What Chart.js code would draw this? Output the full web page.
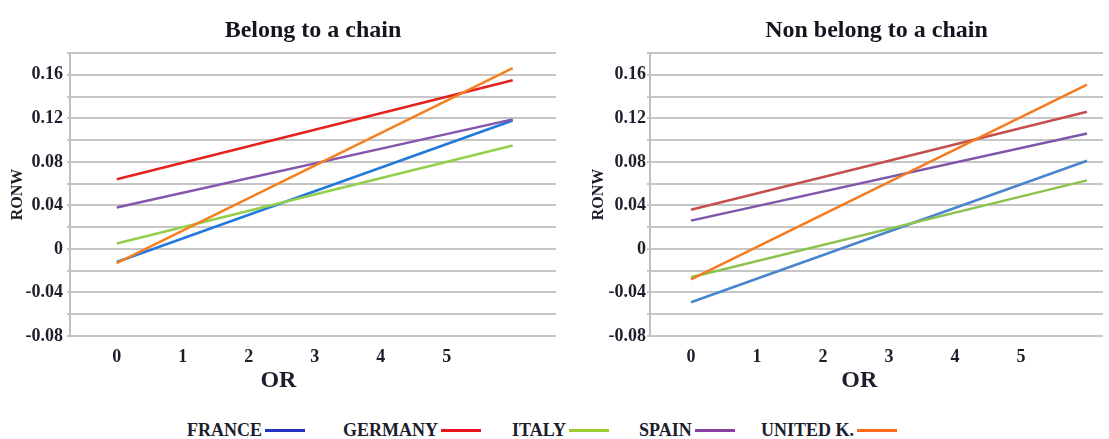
<!DOCTYPE html>
<html>
<head>
<meta charset="utf-8">
<script src="https://cdn.jsdelivr.net/npm/chart.js@4.4.1/dist/chart.umd.min.js"></script>
<style>
  html, body { margin: 0; padding: 0; background: #fff; width: 1109px; height: 439px; overflow: hidden; }
  #belong { position: absolute; left: 0; top: 0; }
  #nonBelong { position: absolute; left: 560px; top: 0; }
  .key { position: absolute; top: 418px; height: 24px; line-height: 24px; display: flex; align-items: center;
         font: bold 18px 'Liberation Serif', 'Times New Roman', serif; color: #1d1d2b; white-space: nowrap; }
  .key i { display: inline-block; width: 40px; height: 3px; margin-left: 3px; }
</style>
</head>
<body>
<canvas id="belong" width="560" height="400"></canvas>
<canvas id="nonBelong" width="549" height="400"></canvas>
<div id="keys"></div>
<script>
// OR values at which each fitted line is evaluated
const xValues = [0, 6];

const countries = ['FRANCE', 'GERMANY', 'ITALY', 'SPAIN', 'UNITED K.'];

// RONW, firms belonging to a chain
const belongFrance  = [-0.012, 0.118];
const belongGermany = [0.064, 0.155];
const belongItaly   = [0.005, 0.095];
const belongSpain   = [0.038, 0.119];
const belongUK      = [-0.013, 0.166];

// RONW, firms not belonging to a chain
const nonFrance  = [-0.049, 0.081];
const nonGermany = [0.036, 0.126];
const nonItaly   = [-0.026, 0.063];
const nonSpain   = [0.026, 0.106];
const nonUK      = [-0.028, 0.151];

// axis ticks
const xTicks = [0, 1, 2, 3, 4, 5];
const xTickLabels = ['0', '1', '2', '3', '4', '5'];
const yTicks = [-0.08, -0.06, -0.04, -0.02, 0, 0.02, 0.04, 0.06, 0.08, 0.10, 0.12, 0.14, 0.16, 0.18];
const yTickLabels = ['-0.08', '', '-0.04', '', '0', '', '0.04', '', '0.08', '', '0.12', '', '0.16', ''];

const SERIF = "'Liberation Serif', 'Times New Roman', serif";
const INK = '#1d1d2b';

// draws the "OR" caption under the x tick labels
const orCaption = {
  id: 'orCaption',
  afterDraw(chart, args, opts) {
    const xs = chart.scales.x;
    const ctx = chart.ctx;
    ctx.save();
    ctx.font = 'bold 24px ' + SERIF;
    ctx.fillStyle = INK;
    ctx.textAlign = 'center';
    ctx.textBaseline = 'middle';
    ctx.fillText(opts.text, xs.getPixelForValue(opts.at), xs.bottom - 19);
    ctx.restore();
  }
};

function makePanel(id, title, series, colors, geo) {
  return new Chart(document.getElementById(id), {
    type: 'line',
    data: {
      datasets: series.map((vals, i) => ({
        label: countries[i],
        data: xValues.map((x, j) => ({ x: x, y: vals[j] })),
        borderColor: colors[i],
        borderWidth: 2.5,
        pointRadius: 0,
        tension: 0,
        fill: false,
        order: series.length - i
      }))
    },
    options: {
      responsive: false,
      animation: false,
      devicePixelRatio: 1,
      layout: { padding: { left: 0, right: geo.padRight, top: 0, bottom: 0 } },
      plugins: {
        legend: { display: false },
        tooltip: { enabled: false },
        title: {
          display: true,
          fullSize: false,
          text: title,
          color: '#151520',
          font: { family: SERIF, size: 24, weight: 'bold', lineHeight: 1.2 },
          padding: { top: 16.5, bottom: 7.7 }
        },
        orCaption: { text: 'OR', at: geo.orAt }
      },
      scales: {
        x: {
          type: 'linear',
          min: geo.xMin,
          max: geo.xMax,
          afterBuildTicks: s => { s.ticks = xTicks.map(v => ({ value: v })); },
          afterFit: s => { s.height = 64; },
          grid: { display: false, drawTicks: false },
          border: { display: false },
          ticks: {
            color: INK,
            padding: 10.5,
            font: { family: SERIF, size: 18, weight: 'bold' },
            maxRotation: 0,
            autoSkip: false,
            callback: (v, i) => xTickLabels[i]
          }
        },
        y: {
          min: -0.08,
          max: 0.18,
          afterBuildTicks: s => { s.ticks = yTicks.map(v => ({ value: v })); },
          afterFit: s => { s.width = geo.yWidth; },
          grid: { color: '#c6c6c6', lineWidth: 2, drawTicks: true, tickLength: 3 },
          border: { display: true, color: '#c0c0c0', width: 2 },
          ticks: {
            color: INK,
            padding: geo.tickPad,
            font: { family: SERIF, size: 18, weight: 'bold' },
            autoSkip: false,
            callback: (v, i) => yTickLabels[i]
          },
          title: {
            display: true,
            text: 'RONW',
            color: INK,
            font: { family: SERIF, size: 16, weight: 'bold', lineHeight: 1.2 },
            padding: { top: geo.titlePad, bottom: 0 }
          }
        }
      }
    },
    plugins: [orCaption]
  });
}

makePanel('belong', 'Belong to a chain',
  [belongFrance, belongGermany, belongItaly, belongSpain, belongUK],
  ['#2279dc', '#e3211f', '#93cf4c', '#8556ad', '#f6801f'],
  { padRight: 4, yWidth: 70, tickPad: 4, titlePad: 8.7, xMin: -0.708, xMax: 6.656, orAt: 2.45 });

makePanel('nonBelong', 'Non belong to a chain',
  [nonFrance, nonGermany, nonItaly, nonSpain, nonUK],
  ['#4a84cb', '#c4504e', '#8dc24f', '#7e56aa', '#f47b20'],
  { padRight: 6, yWidth: 90, tickPad: 1, titlePad: 29.4, xMin: -0.621, xMax: 6.242, orAt: 2.55 });

// shared key under both panels
const keyColors = ['#2233c2', '#e8141c', '#9acd32', '#8a40a2', '#ff6a1a'];
const keyLeft = [187, 343, 512, 639, 761];
const keys = document.getElementById('keys');
countries.forEach((name, i) => {
  const el = document.createElement('div');
  el.className = 'key';
  el.style.left = keyLeft[i] + 'px';
  el.textContent = name;
  const sw = document.createElement('i');
  sw.style.background = keyColors[i];
  el.appendChild(sw);
  keys.appendChild(el);
});
</script>
</body>
</html>
